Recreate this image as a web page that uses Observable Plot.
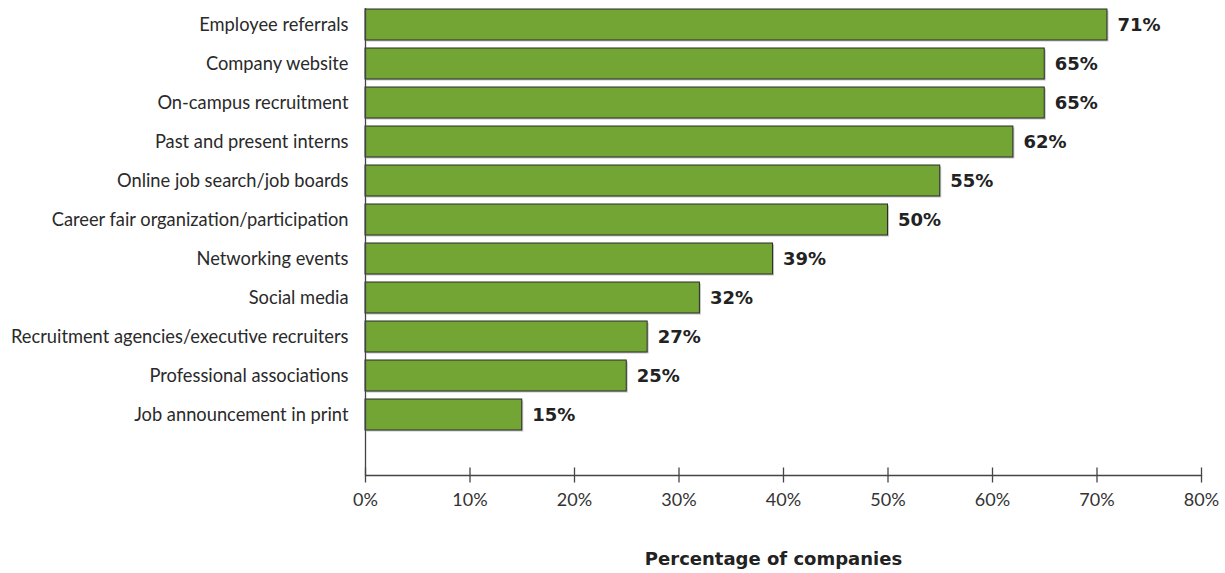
<!DOCTYPE html>
<html>
<head>
<meta charset="utf-8">
<script src="https://cdn.jsdelivr.net/npm/d3@7"></script>
<script src="https://cdn.jsdelivr.net/npm/@observablehq/plot@0.6"></script>
<style>
  html, body { margin: 0; padding: 0; background: #fff; }
  #chart svg { display: block; }
</style>
</head>
<body>
<div id="chart"></div>
<script>
const categories = [
  "Employee referrals",
  "Company website",
  "On-campus recruitment",
  "Past and present interns",
  "Online job search/job boards",
  "Career fair organization/participation",
  "Networking events",
  "Social media",
  "Recruitment agencies/executive recruiters",
  "Professional associations",
  "Job announcement in print"
];
const values = [71, 65, 65, 62, 55, 50, 39, 32, 27, 25, 15];
const xTicks = [0, 10, 20, 30, 40, 50, 60, 70, 80];
const axisTitle = "Percentage of companies";

const data = categories.map((c, i) => ({category: c, value: values[i]}));
const font = "Lato, 'Open Sans', sans-serif";
const boldFont = "'DejaVu Sans', Verdana, sans-serif";

const chart = Plot.plot({
  width: 1225,
  height: 573,
  marginLeft: 365,
  marginRight: 24,
  marginTop: 8,
  marginBottom: 98,
  style: {fontFamily: font, color: "#2a2a2a", background: "#fff"},
  x: {domain: [0, 80], ticks: xTicks},
  y: {domain: categories, range: [4.1, 435.3], paddingInner: 0.2, paddingOuter: 0.1, axis: null},
  marks: [
    Plot.barX(data, {x: "value", y: "category", fill: "#c4c4c4", dx: 1.5, dy: 1.5}),
    Plot.barX(data, {x: "value", y: "category", fill: "#72a534", stroke: "#2b2b2b", strokeWidth: 1}),
    Plot.text(data, {x: "value", y: "category", text: d => d.value + "%", textAnchor: "start", dx: 10, fontSize: 18, fontWeight: "bold", fontFamily: boldFont, fill: "#222"}),
    Plot.axisY({tickSize: 0, tickPadding: 17, fontSize: 18.3, fill: "#2a2a2a", label: null}),
    Plot.axisX({ticks: xTicks, tickSize: 15, dy: -7.5, tickPadding: 10, fontSize: 18, tickFormat: d => d + "%", stroke: "#444", strokeWidth: 1.3, fill: "#333", label: null}),
    Plot.ruleX([0], {stroke: "#444", strokeWidth: 1.3}),
    Plot.frame({anchor: "bottom", stroke: "#444", strokeWidth: 1.3}),
    Plot.text([axisTitle], {frameAnchor: "bottom", dy: 89, dx: -10, fontSize: 18, fontWeight: "bold", fontFamily: boldFont, fill: "#222"})
  ]
});
document.getElementById("chart").appendChild(chart);
</script>
</body>
</html>
